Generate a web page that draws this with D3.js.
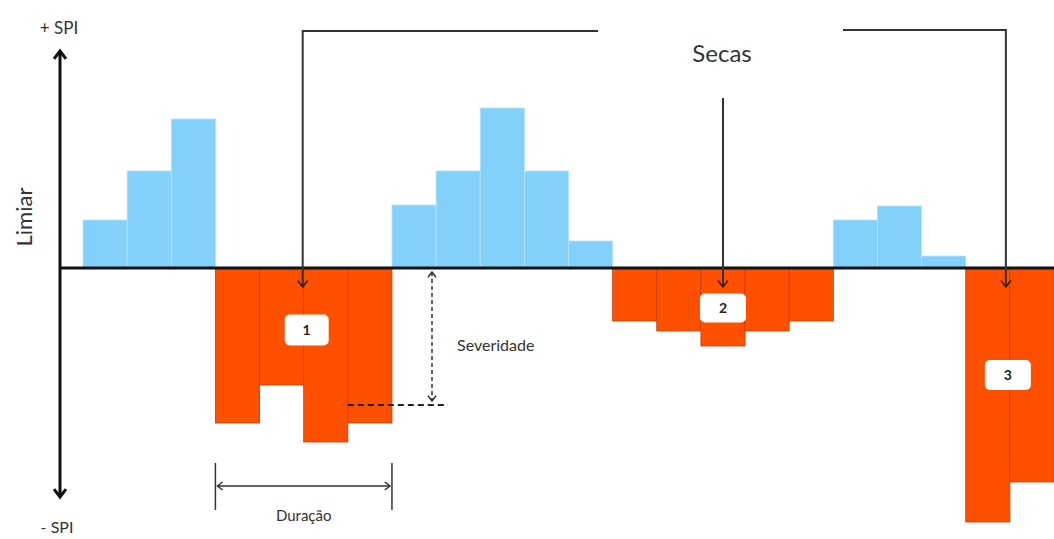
<!DOCTYPE html>
<html><head><meta charset="utf-8">
<script src="https://cdn.jsdelivr.net/npm/d3@7"></script>
<style>body{margin:0;background:#fff}svg{display:block}text{font-family:Lato,"Open Sans",sans-serif;fill:#333}</style>
</head><body>
<script>
// Data: SPI value per period (22 periods)
const periods = d3.range(22);
const spi = [0.48, 0.97, 1.49, -1.55, -1.17, -1.74, -1.55, 0.63, 0.97, 1.60, 0.97, 0.27,
             -0.53, -0.63, -0.78, -0.63, -0.53, 0.48, 0.62, 0.12, -2.54, -2.14];
const droughtLabels = ["1", "2", "3"];
const axisLabels = ["+ SPI", "- SPI", "Limiar"];

const W = 1054, H = 539;
const svg = d3.select("body").append("svg").attr("width", W).attr("height", H);

const x = d3.scaleBand().domain(periods).range([83, 1054]).padding(0);
const y = d3.scaleLinear().domain([-2.7, 2.5]).range([538, 18]);
const y0 = y(0);

// bars
svg.append("g").selectAll("rect").data(periods).join("rect")
  .attr("x", i => x(i))
  .attr("width", x.bandwidth())
  .attr("y", i => Math.min(y(spi[i]), y0))
  .attr("height", i => Math.abs(y(spi[i]) - y0))
  .attr("fill", i => spi[i] >= 0 ? "#83d0fa" : "#ff5000")
  .attr("stroke", i => spi[i] >= 0 ? "#b4e2fb" : "#c83c08")
  .attr("stroke-width", 0.8);

function chevron(g, cx, cy, dir, size, sw, color) {
  const s = size;
  let d;
  if (dir === "down") d = `M${cx - s},${cy - s * 1.3} L${cx},${cy} L${cx + s},${cy - s * 1.3}`;
  if (dir === "up") d = `M${cx - s},${cy + s * 1.3} L${cx},${cy} L${cx + s},${cy + s * 1.3}`;
  if (dir === "left") d = `M${cx + s * 1.3},${cy - s} L${cx},${cy} L${cx + s * 1.3},${cy + s}`;
  if (dir === "right") d = `M${cx - s * 1.3},${cy - s} L${cx},${cy} L${cx - s * 1.3},${cy + s}`;
  g.append("path").attr("d", d).attr("fill", "none").attr("stroke", color)
    .attr("stroke-width", sw).attr("stroke-linejoin", "miter");
}

const ann = svg.append("g");

// baseline (Limiar)
ann.append("line").attr("x1", 60).attr("x2", W).attr("y1", y0).attr("y2", y0)
  .attr("stroke", "#111").attr("stroke-width", 3);

// vertical SPI axis
ann.append("line").attr("x1", 60).attr("x2", 60).attr("y1", 52).attr("y2", 496)
  .attr("stroke", "#111").attr("stroke-width", 3);
chevron(ann, 60, 51, "up", 6, 3, "#111");
chevron(ann, 60, 497, "down", 6, 3, "#111");

ann.append("text").attr("x", 59).attr("y", 34).attr("text-anchor", "middle")
  .attr("font-size", 17).text(axisLabels[0]);
ann.append("text").attr("x", 57).attr("y", 533).attr("text-anchor", "middle")
  .attr("font-size", 16).text(axisLabels[1]);
ann.append("text").attr("transform", "translate(32,217) rotate(-90)").attr("text-anchor", "middle")
  .attr("font-size", 22).text(axisLabels[2]);

// "Secas" callouts
const xa1 = x(5) - 1, xa2 = x(14) + x.bandwidth() / 2, xa3 = x(21) - 4;
const tipY = y0 + 19;
const lc = "#333";
ann.append("path").attr("d", `M598,31 H${xa1} V${tipY}`).attr("fill", "none").attr("stroke", lc).attr("stroke-width", 2);
ann.append("path").attr("d", `M843,30 H${xa3} V${tipY}`).attr("fill", "none").attr("stroke", lc).attr("stroke-width", 2);
ann.append("path").attr("d", `M${xa2},98 V${tipY}`).attr("fill", "none").attr("stroke", lc).attr("stroke-width", 2);
[xa1, xa2, xa3].forEach(xx => chevron(ann, xx, tipY, "down", 5, 1.5, "#3a1a10"));
ann.append("text").attr("x", 722).attr("y", 62).attr("text-anchor", "middle")
  .attr("font-size", 24).text("Secas");

// numbered boxes
const boxes = [
  {cx: x(5) + 3, cy: 330, w: 44, h: 31},
  {cx: x(14) + x.bandwidth() / 2, cy: 308, w: 46, h: 29},
  {cx: x(21) - 2, cy: 375, w: 46, h: 30}
];
boxes.forEach((b, i) => {
  ann.append("rect").attr("x", b.cx - b.w / 2).attr("y", b.cy - b.h / 2)
    .attr("width", b.w).attr("height", b.h).attr("rx", 5).attr("fill", "#fff");
  ann.append("text").attr("x", b.cx).attr("y", b.cy + 5).attr("text-anchor", "middle")
    .attr("font-size", 14).attr("font-weight", "bold").style("fill", "#222").text(droughtLabels[i]);
});

// Severidade
const sevY = y(spi[6]) - 18;
ann.append("line").attr("x1", x(6)).attr("x2", 448).attr("y1", sevY).attr("y2", sevY)
  .attr("stroke", "#222").attr("stroke-width", 2).attr("stroke-dasharray", "6,4");
ann.append("line").attr("x1", 432).attr("x2", 432).attr("y1", y0 + 4).attr("y2", sevY - 4)
  .attr("stroke", "#333").attr("stroke-width", 1.5).attr("stroke-dasharray", "4,3");
chevron(ann, 432, y0 + 4, "up", 4, 1.5, "#333");
chevron(ann, 432, sevY - 4, "down", 4, 1.5, "#333");
ann.append("text").attr("x", 457).attr("y", 351).attr("font-size", 16).text("Severidade");

// Duração
const dx1 = x(3), dx2 = x(6) + x.bandwidth();
[dx1, dx2].forEach(xx => ann.append("line").attr("x1", xx).attr("x2", xx).attr("y1", 463).attr("y2", 510)
  .attr("stroke", "#333").attr("stroke-width", 1.5));
ann.append("line").attr("x1", dx1 + 2).attr("x2", dx2 - 2).attr("y1", 486).attr("y2", 486)
  .attr("stroke", "#333").attr("stroke-width", 1.5);
chevron(ann, dx1 + 2, 486, "left", 4, 1.5, "#333");
chevron(ann, dx2 - 2, 486, "right", 4, 1.5, "#333");
ann.append("text").attr("x", (dx1 + dx2) / 2).attr("y", 521).attr("text-anchor", "middle")
  .attr("font-size", 15).text("Duração");
</script>
</body></html>
